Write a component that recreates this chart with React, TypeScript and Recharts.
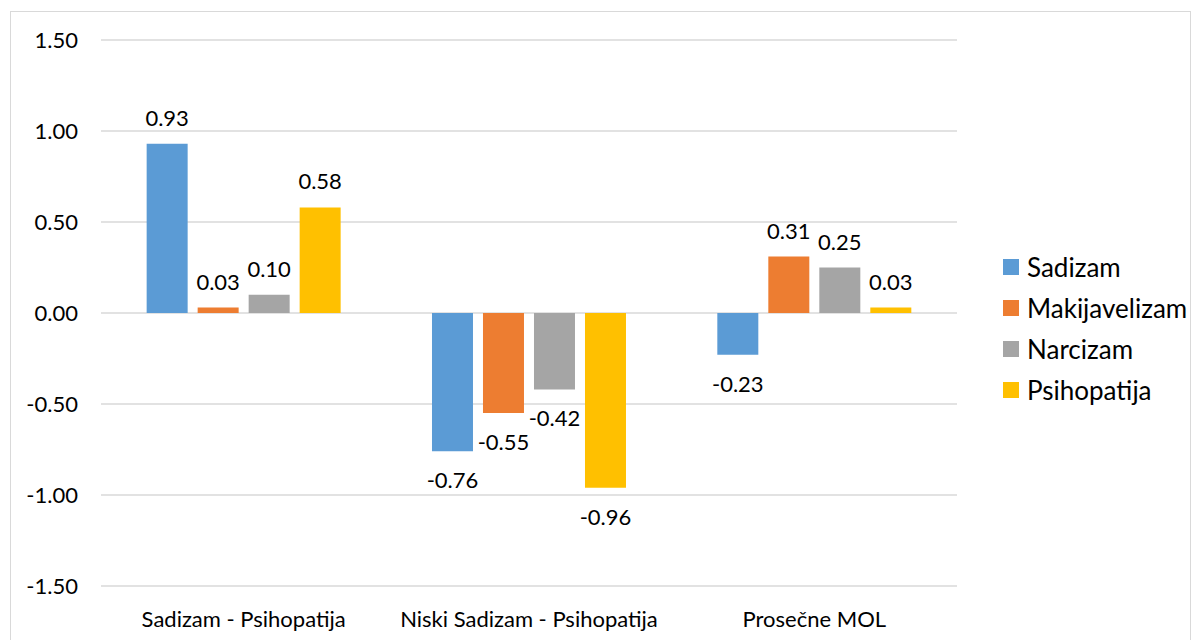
import React from 'react';
import { BarChart, Bar, XAxis, YAxis, CartesianGrid, Legend, LabelList } from 'recharts';

const categories = ['Sadizam - Psihopatija', 'Niski Sadizam - Psihopatija', 'Prosečne MOL'];
const sadizam = [0.93, -0.76, -0.23];
const makijavelizam = [0.03, -0.55, 0.31];
const narcizam = [0.1, -0.42, 0.25];
const psihopatija = [0.58, -0.96, 0.03];
const yTicks = [-1.5, -1, -0.5, 0, 0.5, 1, 1.5];

const SERIES = [
  { key: 'Sadizam', values: sadizam, color: '#5B9BD5' },
  { key: 'Makijavelizam', values: makijavelizam, color: '#ED7D31' },
  { key: 'Narcizam', values: narcizam, color: '#A5A5A5' },
  { key: 'Psihopatija', values: psihopatija, color: '#FFC000' },
];

const data = categories.map((name, i) => {
  const row: Record<string, string | number> = { name };
  SERIES.forEach(s => {
    row[s.key] = s.values[i];
  });
  return row;
});

const FONT = 'Lato, "Noto Sans", sans-serif';
const TEXT = '#000000';
const AXIS_FS = 22;

// value label above positive bars, below negative ones
const renderValueLabel = (props: any) => {
  const { x, y, width, height, value } = props;
  const top = Math.min(y, y + height);
  const bottom = Math.max(y, y + height);
  const ty = value < 0 ? bottom + 37 : top - 18;
  return (
    <text x={x + width / 2} y={ty} textAnchor="middle" fill={TEXT} fontSize={AXIS_FS} fontFamily={FONT}>
      {Number(value).toFixed(2)}
    </text>
  );
};

const renderLegend = () => (
  <div style={{ fontFamily: FONT, fontSize: 26, color: TEXT }}>
    {SERIES.map(s => (
      <div key={s.key} style={{ display: 'flex', alignItems: 'center', height: 41 }}>
        <span style={{ width: 16, height: 16, background: s.color, marginRight: 8, display: 'inline-block' }} />
        {s.key}
      </div>
    ))}
  </div>
);

export default function App() {
  return (
    <div
      style={{
        position: 'absolute',
        left: 10,
        top: 11,
        width: 1179,
        height: 640,
        border: '1px solid #D9D9D9',
        background: '#fff',
      }}
    >
      <BarChart
        width={1179}
        height={629}
        data={data}
        margin={{ top: 28, right: 33, left: 0, bottom: 0 }}
        barGap={10}
        barCategoryGap="16%"
      >
        <CartesianGrid vertical={false} stroke="#D9D9D9" strokeWidth={1.5} />
        <XAxis
          dataKey="name"
          height={55}
          axisLine={false}
          tickLine={false}
          tickSize={0}
          tickMargin={25}
          tick={{ fill: TEXT, fontSize: AXIS_FS, fontFamily: FONT }}
        />
        <YAxis
          width={90}
          domain={[-1.5, 1.5]}
          ticks={yTicks}
          axisLine={false}
          tickLine={false}
          tickSize={0}
          tickMargin={23}
          tickFormatter={(v: number) => v.toFixed(2)}
          tick={{ fill: TEXT, fontSize: AXIS_FS, fontFamily: FONT }}
        />
        <Legend
          layout="vertical"
          verticalAlign="top"
          align="right"
          content={renderLegend}
          wrapperStyle={{ left: 992, top: 234, width: 200, right: 'auto' }}
        />
        {SERIES.map(s => (
          <Bar key={s.key} dataKey={s.key} fill={s.color} isAnimationActive={false}>
            <LabelList dataKey={s.key} content={renderValueLabel} />
          </Bar>
        ))}
      </BarChart>
    </div>
  );
}
